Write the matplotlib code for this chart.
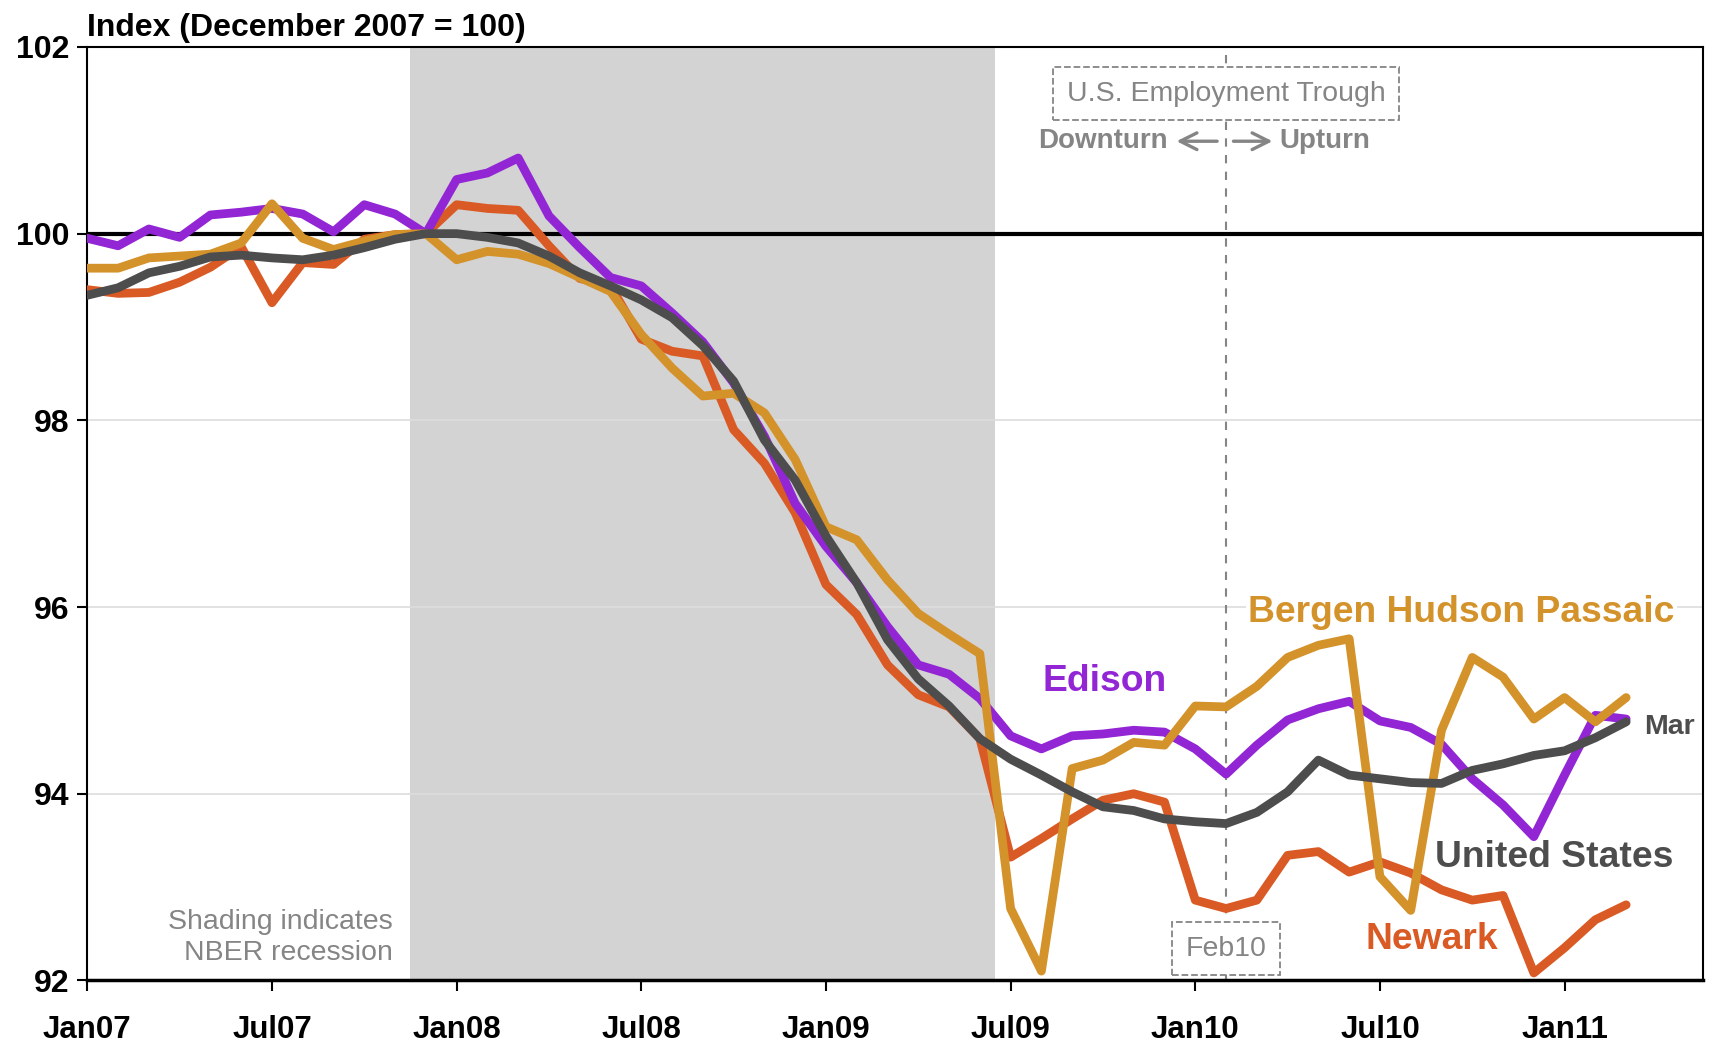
import matplotlib
matplotlib.use("Agg")
import matplotlib.pyplot as plt

plt.rcParams["font.family"] = ["Liberation Sans", "DejaVu Sans"]

# months since Jan 2007 (0 = Jan07 ... 50 = Mar11)
months = list(range(51))
tick_pos = [0, 6, 12, 18, 24, 30, 36, 42, 48]
tick_labels = ["Jan07", "Jul07", "Jan08", "Jul08", "Jan09", "Jul09", "Jan10", "Jul10", "Jan11"]
y_ticks = [92, 94, 96, 98, 100, 102]

edison = [99.95, 99.87, 100.05, 99.96, 100.20, 100.23, 100.27, 100.21, 100.02, 100.31,
          100.21, 100.00, 100.58, 100.65, 100.81, 100.19, 99.85, 99.53, 99.44, 99.15,
          98.84, 98.40, 97.83, 97.11, 96.65, 96.26, 95.79, 95.38, 95.28, 95.02,
          94.62, 94.48, 94.62, 94.64, 94.68, 94.66, 94.48, 94.21, 94.52, 94.79,
          94.91, 94.99, 94.78, 94.71, 94.53, 94.16, 93.88, 93.54, 94.20, 94.84, 94.80]

bergen = [99.63, 99.63, 99.74, 99.76, 99.78, 99.90, 100.32, 99.95, 99.83, 99.92,
          99.99, 100.00, 99.72, 99.81, 99.78, 99.68, 99.53, 99.38, 98.92, 98.56,
          98.26, 98.29, 98.08, 97.58, 96.86, 96.72, 96.29, 95.93, 95.71, 95.50,
          92.77, 92.10, 94.27, 94.36, 94.55, 94.52, 94.94, 94.93, 95.15, 95.46,
          95.59, 95.66, 93.11, 92.75, 94.68, 95.46, 95.25, 94.80, 95.03, 94.77, 95.03]

newark = [99.40, 99.36, 99.37, 99.48, 99.64, 99.86, 99.26, 99.69, 99.67, 99.94,
          99.99, 100.00, 100.31, 100.27, 100.25, 99.87, 99.52, 99.44, 98.87, 98.74,
          98.69, 97.90, 97.54, 97.01, 96.24, 95.92, 95.38, 95.06, 94.93, 94.59,
          93.32, 93.52, 93.73, 93.93, 94.00, 93.91, 92.86, 92.77, 92.86, 93.34,
          93.38, 93.16, 93.27, 93.15, 92.97, 92.86, 92.91, 92.08, 92.35, 92.65, 92.81]

us = [99.34, 99.42, 99.58, 99.65, 99.75, 99.77, 99.74, 99.72, 99.77, 99.85,
      99.94, 100.00, 100.00, 99.96, 99.90, 99.76, 99.58, 99.44, 99.29, 99.10,
      98.80, 98.42, 97.79, 97.36, 96.76, 96.26, 95.65, 95.23, 94.94, 94.59,
      94.37, 94.20, 94.02, 93.86, 93.82, 93.73, 93.70, 93.68, 93.80, 94.02,
      94.36, 94.20, 94.16, 94.12, 94.11, 94.25, 94.32, 94.41, 94.46, 94.60, 94.77]

recession = (10.5, 29.5)
trough = 37  # Feb10

PURPLE = "#9225D4"
ORANGE = "#D4922A"
RED = "#D95A24"
DARK = "#4D4D4D"
GREY = "#858585"
LW = 6.3

fig = plt.figure(figsize=(17.12, 10.55), dpi=100)
ax = fig.add_axes([0.051, 0.0707, 0.9438, 0.8848])

ax.axvspan(*recession, color="#D3D3D3", lw=0, zorder=0)
for y in [94, 96, 98]:
    ax.axhline(y, color="#DDDDDD", lw=1.2, zorder=1)
ax.axhline(100, color="black", lw=3, zorder=2)
ax.axvline(trough, color=GREY, lw=1.5, ls=(0, (4, 4)), zorder=2)

ax.plot(months, newark, color=RED, lw=LW, solid_capstyle="round", zorder=3)
ax.plot(months, edison, color=PURPLE, lw=LW, solid_capstyle="round", zorder=4)
ax.plot(months, bergen, color=ORANGE, lw=LW, solid_capstyle="round", zorder=5)
ax.plot(months, us, color=DARK, lw=LW, solid_capstyle="round", zorder=6)

ax.set_xlim(0, 52.5)
ax.set_ylim(92, 102)
ax.set_xticks(tick_pos)
ax.set_xticklabels(tick_labels)
ax.set_yticks(y_ticks)
ax.tick_params(axis="x", length=8, width=1.5, pad=17, labelsize=22.5)
ax.tick_params(axis="y", length=7, width=1.5, pad=6, labelsize=23)
for lab in ax.get_xticklabels() + ax.get_yticklabels():
    lab.set_fontweight("bold")
for side in ["top", "right", "left"]:
    ax.spines[side].set_linewidth(1.5)
ax.spines["bottom"].set_linewidth(2.5)

ax.annotate("Index (December 2007 = 100)", xy=(0, 1), xycoords="axes fraction",
            xytext=(0, 8), textcoords="offset points", ha="left", va="baseline",
            fontsize=23, fontweight="bold")

# series labels
ax.text(44.65, 95.94, "Bergen Hudson Passaic", color=ORANGE, fontsize=26.8,
        fontweight="bold", ha="center", va="center", zorder=7,
        bbox=dict(facecolor="white", edgecolor="none", pad=2))
ax.text(33.05, 95.2, "Edison", color=PURPLE, fontsize=26.8, fontweight="bold",
        ha="center", va="center", zorder=7)
ax.text(47.66, 93.32, "United States", color=DARK, fontsize=26.8, fontweight="bold",
        ha="center", va="center", zorder=7)
ax.text(43.69, 92.44, "Newark", color=RED, fontsize=26.8, fontweight="bold",
        ha="center", va="center", zorder=7)
ax.text(50.6, 94.71, "Mar", color=DARK, fontsize=20.5, fontweight="bold",
        ha="left", va="center", zorder=7)

ax.text(9.93, 92.46, "Shading indicates\nNBER recession", color=GREY, fontsize=20.5,
        ha="right", va="center", linespacing=1.25, zorder=7)

# trough annotations
box = dict(boxstyle="square,pad=0.48", facecolor="white", edgecolor=GREY,
           linestyle="--", lw=1.3)
ax.text(trough, 101.5, "U.S. Employment Trough", color=GREY, fontsize=20.5,
        ha="center", va="center", bbox=box, zorder=7)
ax.text(trough, 92.34, "Feb10", color=GREY, fontsize=20.5,
        ha="center", va="center", bbox=box, zorder=7)
ax.text(35.1, 100.99, "Downturn", color=GREY, fontsize=20, fontweight="bold",
        ha="right", va="center", zorder=7)
ax.text(38.72, 100.99, "Upturn", color=GREY, fontsize=20, fontweight="bold",
        ha="left", va="center", zorder=7)
arrow = dict(arrowstyle="->", color=GREY, lw=2.4, mutation_scale=30)
ax.annotate("", xy=(35.3, 100.99), xytext=(36.8, 100.99), arrowprops=arrow, zorder=7)
ax.annotate("", xy=(38.6, 100.99), xytext=(37.15, 100.99), arrowprops=arrow, zorder=7)

fig.savefig("out.png", dpi=100)
